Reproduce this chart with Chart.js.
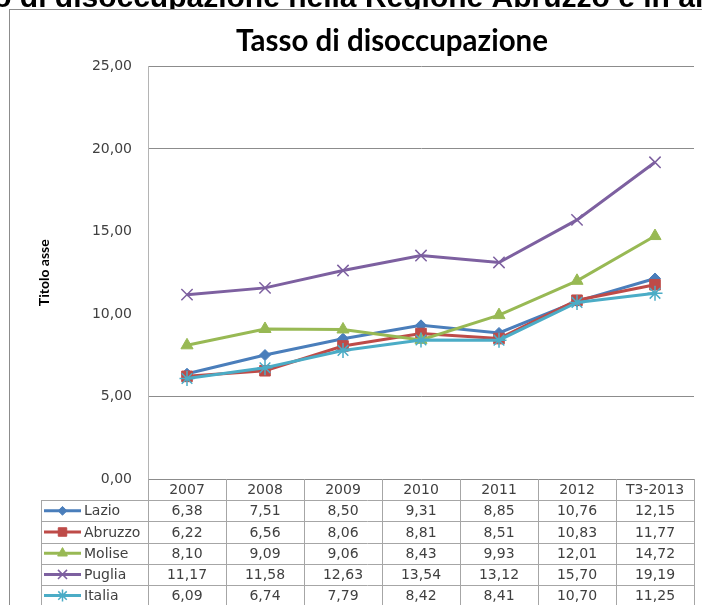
<!DOCTYPE html>
<html>
<head>
<meta charset="utf-8">
<script src="https://cdn.jsdelivr.net/npm/chart.js@4/dist/chart.umd.min.js"></script>
<style>
    html, body { margin: 0; padding: 0; background: #fff; overflow: hidden; }
    #wrap { position: relative; width: 702px; height: 605px; overflow: hidden; }
</style>
</head>
<body>
<!-- the chart is wider than the window, as in the screenshot it comes from -->
<div id="wrap"><canvas id="chart" width="784" height="605"></canvas></div>
<script>
const categories = ['2007', '2008', '2009', '2010', '2011', '2012', 'T3-2013'];
const seriesNames = ['Lazio', 'Abruzzo', 'Molise', 'Puglia', 'Italia'];
const lazio   = [6.38, 7.51, 8.50, 9.31, 8.85, 10.76, 12.15];
const abruzzo = [6.22, 6.56, 8.06, 8.81, 8.51, 10.83, 11.77];
const molise  = [8.10, 9.09, 9.06, 8.43, 9.93, 12.01, 14.72];
const puglia  = [11.17, 11.58, 12.63, 13.54, 13.12, 15.70, 19.19];
const italia  = [6.09, 6.74, 7.79, 8.42, 8.41, 10.70, 11.25];
const yTicks = [0, 5, 10, 15, 20, 25];

const colors = ['#4A7EBB', '#BE4B48', '#98B954', '#7D60A0', '#4BACC6'];
const styles = ['rectRot', 'rect', 'triangle', 'crossRot', 'star'];
const radii = [5.5, 7.5, 7, 8, 7.5];
const allValues = [lazio, abruzzo, molise, puglia, italia];

const fmt = v => v.toFixed(2).replace('.', ',');
const tableFont = '14px "DejaVu Sans", Verdana, sans-serif';

// headline cut off at the top of the screenshot, table under the plot
const sheetPlugin = {
    id: 'sheet',
    afterDraw(chart) {
        const ctx = chart.ctx;
        const area = chart.chartArea;
        const x = chart.scales.x;

        ctx.save();
        ctx.beginPath();
        ctx.rect(0, 0, chart.width, 9);
        ctx.clip();
        ctx.fillStyle = '#000';
        ctx.font = 'bold 30px "Liberation Sans", Arial, sans-serif';
        ctx.textBaseline = 'alphabetic';
        ctx.fillText('Tasso di disoccupazione nella Regione Abruzzo e in altre regioni', -73, 7);
        ctx.restore();

        ctx.save();
        ctx.strokeStyle = '#8c8c8c';
        ctx.lineWidth = 1;
        ctx.strokeRect(9.5, 9.5, 800, 720);
        ctx.restore();

        const colW = x.getPixelForValue(1) - x.getPixelForValue(0);
        const top = area.bottom;
        const rowH = 21.2;
        const legLeft = 41;
        const nRows = seriesNames.length + 1;
        ctx.save();
        ctx.strokeStyle = '#a6a6a6';
        ctx.lineWidth = 1;
        ctx.beginPath();
        for (let i = 0; i <= categories.length; i++) {
            const cx = Math.round(area.left + i * colW) + 0.5;
            ctx.moveTo(cx, top);
            ctx.lineTo(cx, top + rowH * nRows);
        }
        ctx.moveTo(legLeft + 0.5, top + rowH);
        ctx.lineTo(legLeft + 0.5, top + rowH * nRows);
        for (let r = 1; r < nRows; r++) {
            const y = Math.round(top + r * rowH) + 0.5;
            ctx.moveTo(legLeft, y);
            ctx.lineTo(area.right, y);
        }
        ctx.stroke();

        ctx.font = tableFont;
        ctx.fillStyle = '#404040';
        ctx.textAlign = 'center';
        ctx.textBaseline = 'middle';
        categories.forEach((c, i) => {
            ctx.fillText(c, x.getPixelForValue(i), top + rowH / 2 + 1);
        });

        chart.data.datasets.forEach((ds, r) => {
            const cy = top + rowH * (r + 1) + rowH / 2;
            ctx.strokeStyle = ds.borderColor;
            ctx.lineWidth = 3;
            ctx.beginPath();
            ctx.moveTo(44, cy);
            ctx.lineTo(81, cy);
            ctx.stroke();
            ctx.fillStyle = ds.pointBackgroundColor;
            ctx.lineWidth = ds.pointBorderWidth;
            Chart.helpers.drawPoint(ctx, {
                pointStyle: ds.pointStyle,
                radius: ds.pointRadius * 0.8,
                borderWidth: ds.pointBorderWidth,
                rotation: 0
            }, 62.5, cy);

            ctx.fillStyle = '#404040';
            ctx.textAlign = 'left';
            ctx.fillText(ds.label, 84, cy + 1);
            ctx.textAlign = 'center';
            ds.data.forEach((v, i) => {
                ctx.fillText(fmt(v), x.getPixelForValue(i), cy + 1);
            });
        });
        ctx.restore();
    }
};

new Chart(document.getElementById('chart'), {
    type: 'line',
    data: {
        labels: categories,
        datasets: seriesNames.map((name, i) => ({
            label: name,
            data: allValues[i],
            borderColor: colors[i],
            backgroundColor: colors[i],
            pointBackgroundColor: colors[i],
            pointBorderColor: colors[i],
            pointStyle: styles[i],
            pointRadius: radii[i],
            pointBorderWidth: i >= 3 ? 1.5 : 1,
            borderWidth: 3,
            tension: 0,
            order: seriesNames.length - i
        }))
    },
    options: {
        responsive: false,
        animation: false,
        layout: { padding: { top: 9, left: 0, right: 0, bottom: 126 } },
        plugins: {
            legend: { display: false },
            tooltip: { enabled: false },
            title: {
                display: true,
                text: 'Tasso di disoccupazione',
                color: '#000',
                font: { family: 'Lato, "Liberation Sans", sans-serif', size: 29.5, weight: 'bold' },
                padding: { top: 15, bottom: 7 }
            }
        },
        scales: {
            x: {
                display: false,
                offset: true
            },
            y: {
                min: yTicks[0],
                max: yTicks[yTicks.length - 1],
                afterFit: s => { s.width = 148; },
                afterBuildTicks: s => { s.ticks = yTicks.map(v => ({ value: v })); },
                ticks: {
                    padding: 16,
                    color: '#404040',
                    font: { family: '"DejaVu Sans", Verdana, sans-serif', size: 14 },
                    callback: v => fmt(v)
                },
                grid: {
                    drawTicks: false,
                    color: c => (c.tick && (c.tick.value === 10 || c.tick.value === 15)) ? 'rgba(0,0,0,0)' : '#8c8c8c'
                },
                border: { color: '#b4b4b4' },
                title: {
                    display: true,
                    text: 'Titolo asse',
                    color: '#000',
                    font: { family: 'Lato, "Liberation Sans Narrow", sans-serif', size: 14, weight: 'bold' },
                    padding: { top: 36, bottom: 0 }
                }
            },
            // empty strip on the right, the part of the chart outside the window
            yRight: {
                position: 'right',
                display: true,
                min: 0,
                max: 25,
                afterFit: s => { s.width = 90; },
                ticks: { display: false },
                grid: { display: false },
                border: { display: false }
            }
        }
    },
    plugins: [sheetPlugin]
});
</script>
</body>
</html>
